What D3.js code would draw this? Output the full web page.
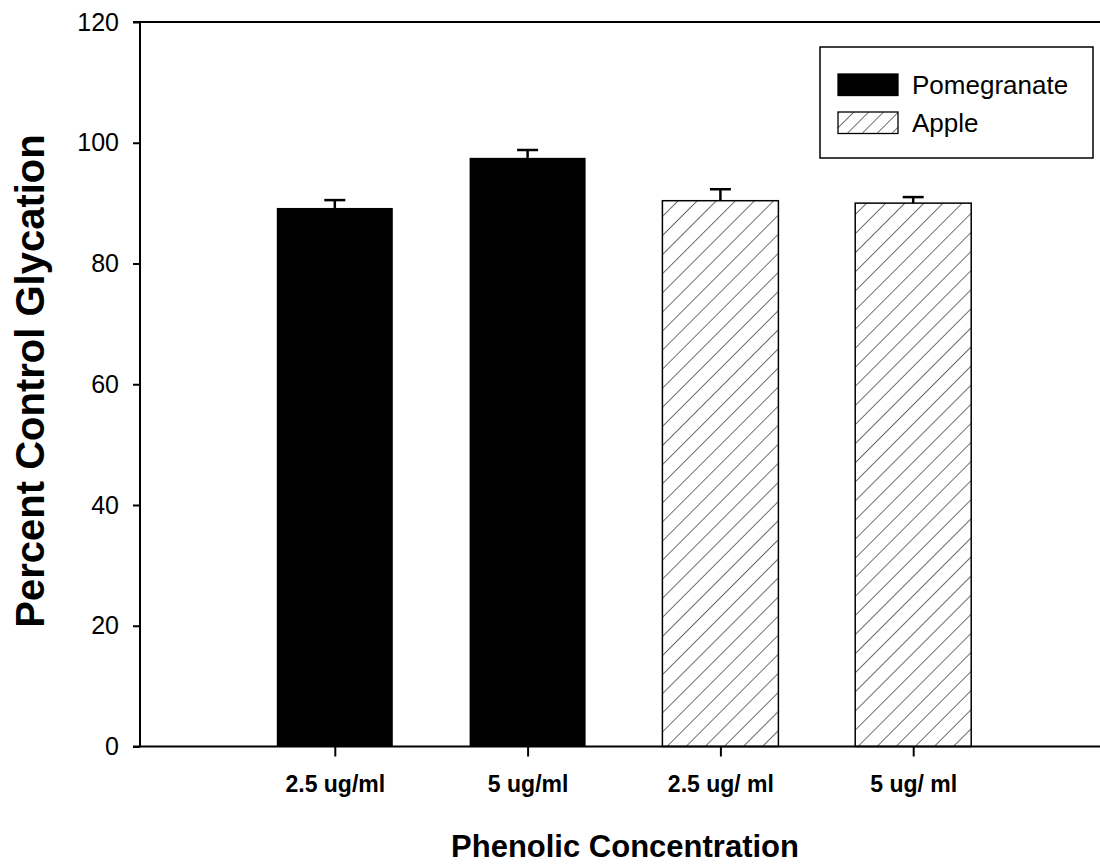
<!DOCTYPE html>
<html><head><meta charset="utf-8">
<script src="https://cdn.jsdelivr.net/npm/d3@7"></script>
<style>body{margin:0;background:#fff;} svg{display:block;}</style>
</head><body>
<svg id="c" width="1100" height="865"></svg>
<script>
const categories = ["2.5 ug/ml", "5 ug/ml", "2.5 ug/ ml", "5 ug/ ml"];
const seriesOf = ["Pomegranate", "Pomegranate", "Apple", "Apple"];
const values = [89.2, 97.5, 90.4, 90.0];
const errors = [1.3, 1.3, 1.9, 1.0];
const seriesNames = ["Pomegranate", "Apple"];
const yTicks = [0, 20, 40, 60, 80, 100, 120];

const svg = d3.select("#c");
const defs = svg.append("defs");
function hatch(id, sp) {
  const p = defs.append("pattern").attr("id", id).attr("patternUnits", "userSpaceOnUse")
    .attr("width", sp).attr("height", sp).attr("patternTransform", "rotate(45)");
  p.append("rect").attr("width", sp).attr("height", sp).attr("fill", "#fff");
  p.append("line").attr("x1", 0).attr("y1", 0).attr("x2", 0).attr("y2", sp)
    .attr("stroke", "#222").attr("stroke-width", 1.3);
}
hatch("hb", 13.5);
hatch("hl", 10.5);
const fills = {Pomegranate: "#000", Apple: "url(#hb)"};
const legFills = {Pomegranate: "#000", Apple: "url(#hl)"};

const y = d3.scaleLinear().domain([0, 120]).range([746.5, 22]);
const x = d3.scalePoint().domain(categories).range([142, 1106]).padding(1);
const left = 140, right = 1100;
const barW = 116;

// Bars
const g = svg.append("g");
categories.forEach((c, i) => {
  g.append("rect").attr("x", x(c) - barW/2).attr("y", y(values[i]))
    .attr("width", barW).attr("height", y(0) - y(values[i]))
    .attr("fill", fills[seriesOf[i]])
    .attr("stroke", "#000").attr("stroke-width", seriesOf[i] === "Apple" ? 1.5 : 0);
  // error bar
  g.append("line").attr("x1", x(c)).attr("x2", x(c))
    .attr("y1", y(values[i])).attr("y2", y(values[i] + errors[i]))
    .attr("stroke", "#000").attr("stroke-width", 2.5);
  g.append("line").attr("x1", x(c) - 10.5).attr("x2", x(c) + 10.5)
    .attr("y1", y(values[i] + errors[i])).attr("y2", y(values[i] + errors[i]))
    .attr("stroke", "#000").attr("stroke-width", 2.5);
});

// Frame lines
svg.append("line").attr("x1", 133).attr("x2", right).attr("y1", y(120)).attr("y2", y(120))
  .attr("stroke", "#000").attr("stroke-width", 2);
svg.append("line").attr("x1", 133).attr("x2", right).attr("y1", y(0)).attr("y2", y(0))
  .attr("stroke", "#000").attr("stroke-width", 2);

// Y axis
const yAxis = d3.axisLeft(y).tickValues(yTicks).tickSize(7).tickPadding(14);
const ya = svg.append("g").attr("transform", `translate(${left},0)`).call(yAxis);
ya.select(".domain").attr("stroke-width", 2).attr("d", `M0,${y(120)}V${y(0)}`);
ya.selectAll(".tick line").attr("stroke-width", 2);
ya.selectAll(".tick text").attr("font-family", "Liberation Sans, Arial, sans-serif")
  .attr("font-size", 25).attr("fill", "#000");

// X axis
const xAxis = d3.axisBottom(x).tickSize(10).tickPadding(19);
const xa = svg.append("g").attr("transform", `translate(0,${y(0)})`).call(xAxis);
xa.select(".domain").remove();
xa.selectAll(".tick line").attr("stroke-width", 2);
xa.selectAll(".tick text").attr("font-family", "Liberation Sans, Arial, sans-serif")
  .attr("font-size", 23).attr("font-weight", "bold").attr("fill", "#000");

// Axis titles
svg.append("text").attr("x", 625).attr("y", 857).attr("text-anchor", "middle")
  .attr("font-family", "Liberation Sans, Arial, sans-serif").attr("font-weight", "bold")
  .attr("font-size", 31).text("Phenolic Concentration");
svg.append("text").attr("transform", "translate(44,381) rotate(-90)").attr("text-anchor", "middle")
  .attr("font-family", "Liberation Sans, Arial, sans-serif").attr("font-weight", "bold")
  .attr("font-size", 40).text("Percent Control Glycation");

// Legend
const lg = svg.append("g");
lg.append("rect").attr("x", 820).attr("y", 47).attr("width", 273).attr("height", 111)
  .attr("fill", "#fff").attr("stroke", "#000").attr("stroke-width", 1.5);
seriesNames.forEach((s, i) => {
  const yy = 74 + i * 38;
  lg.append("rect").attr("x", 838).attr("y", yy).attr("width", 60).attr("height", 21.5)
    .attr("fill", legFills[s]).attr("stroke", "#000").attr("stroke-width", 1.3);
  lg.append("text").attr("x", 912).attr("y", yy + 20).attr("font-family", "Liberation Sans, Arial, sans-serif")
    .attr("font-size", 26).attr("fill", "#000").text(s);
});
</script>
</body></html>
